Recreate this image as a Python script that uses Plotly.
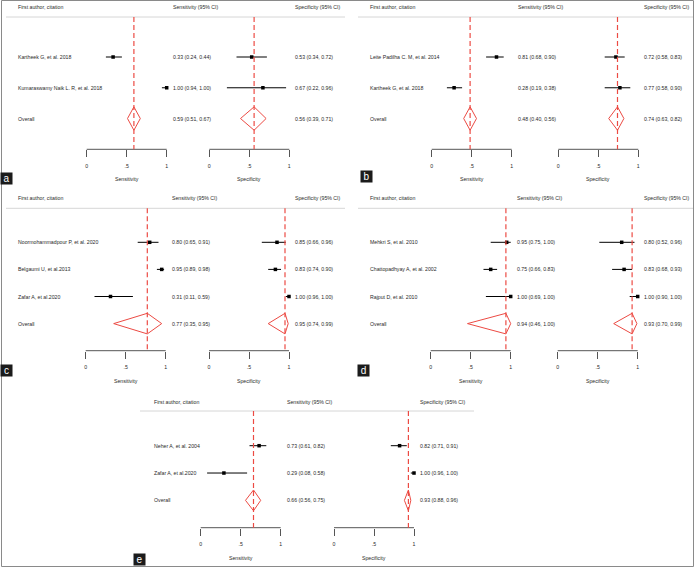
import plotly.graph_objects as go

W, H = 697, 568

# ---------------- data ----------------
a_studies = ["Kartheek G, et al. 2018", "Kumaraswamy Naik L. R, et al. 2018"]
a_sens = [0.33, 1.00]
a_sens_lo = [0.24, 0.94]
a_sens_hi = [0.44, 1.00]
a_spec = [0.53, 0.67]
a_spec_lo = [0.34, 0.22]
a_spec_hi = [0.72, 0.96]
a_pool_sens = [0.59, 0.51, 0.67]
a_pool_spec = [0.56, 0.39, 0.71]

b_studies = ["Leite Padilha C. M, et al. 2014", "Kartheek G, et al. 2018"]
b_sens = [0.81, 0.28]
b_sens_lo = [0.68, 0.19]
b_sens_hi = [0.90, 0.38]
b_spec = [0.72, 0.77]
b_spec_lo = [0.58, 0.58]
b_spec_hi = [0.83, 0.90]
b_pool_sens = [0.48, 0.40, 0.56]
b_pool_spec = [0.74, 0.63, 0.82]

c_studies = ["Noormohammadpour P, et al. 2020", "Belgaumi U, et al.2013", "Zafar A, et al.2020"]
c_sens = [0.80, 0.95, 0.31]
c_sens_lo = [0.65, 0.89, 0.11]
c_sens_hi = [0.91, 0.98, 0.59]
c_spec = [0.85, 0.83, 1.00]
c_spec_lo = [0.66, 0.74, 0.96]
c_spec_hi = [0.96, 0.90, 1.00]
c_pool_sens = [0.77, 0.35, 0.95]
c_pool_spec = [0.95, 0.74, 0.99]

d_studies = ["Mehkri S, et al. 2010", "Chattopadhyay A, et al. 2002", "Rajput D, et al. 2010"]
d_sens = [0.95, 0.75, 1.00]
d_sens_lo = [0.75, 0.66, 0.69]
d_sens_hi = [1.00, 0.83, 1.00]
d_spec = [0.80, 0.83, 1.00]
d_spec_lo = [0.52, 0.68, 0.90]
d_spec_hi = [0.96, 0.93, 1.00]
d_pool_sens = [0.94, 0.46, 1.00]
d_pool_spec = [0.93, 0.70, 0.99]

e_studies = ["Neher A, et al. 2004", "Zafar A, et al.2020"]
e_sens = [0.73, 0.29]
e_sens_lo = [0.61, 0.08]
e_sens_hi = [0.82, 0.58]
e_spec = [0.82, 1.00]
e_spec_lo = [0.71, 0.96]
e_spec_hi = [0.91, 1.00]
e_pool_sens = [0.66, 0.56, 0.75]
e_pool_spec = [0.93, 0.88, 0.96]

tick_vals = [0, 0.5, 1]
tick_text = ["0", ".5", "1"]

# ---------------- layout (pixels) ----------------
panels = [
    dict(letter="a", studies=a_studies,
         cols=[("Sensitivity", a_sens, a_sens_lo, a_sens_hi, a_pool_sens),
               ("Specificity", a_spec, a_spec_lo, a_spec_hi, a_pool_spec)],
         label_px=15.7, x0s=[86.7, 209.3], head=7.5, line=17, row1=57, axis=149.3,
         hl=(6, 345), lab=(6, 178)),
    dict(letter="b", studies=b_studies,
         cols=[("Sensitivity", b_sens, b_sens_lo, b_sens_hi, b_pool_sens),
               ("Specificity", b_spec, b_spec_lo, b_spec_hi, b_pool_spec)],
         label_px=367.7, x0s=[431.7, 558.3], head=7.5, line=17, row1=57, axis=149.3,
         hl=(358, 693), lab=(366.5, 177)),
    dict(letter="c", studies=c_studies,
         cols=[("Sensitivity", c_sens, c_sens_lo, c_sens_hi, c_pool_sens),
               ("Specificity", c_spec, c_spec_lo, c_spec_hi, c_pool_spec)],
         label_px=15.7, x0s=[85.7, 209.0], head=198.3, line=208.3, row1=242.3, axis=350.7,
         hl=(6, 345), lab=(6.5, 370)),
    dict(letter="d", studies=d_studies,
         cols=[("Sensitivity", d_sens, d_sens_lo, d_sens_hi, d_pool_sens),
               ("Specificity", d_spec, d_spec_lo, d_spec_hi, d_pool_spec)],
         label_px=367.7, x0s=[430.7, 557.7], head=198.3, line=208.3, row1=242.3, axis=350.7,
         hl=(358, 693), lab=(363.7, 370)),
    dict(letter="e", studies=e_studies,
         cols=[("Sensitivity", e_sens, e_sens_lo, e_sens_hi, e_pool_sens),
               ("Specificity", e_spec, e_spec_lo, e_spec_hi, e_pool_spec)],
         label_px=151.7, x0s=[200.7, 334.0], head=401.7, line=411, row1=445.7, axis=527.7,
         hl=(140, 474), lab=(139, 559.5)),
]

SPAN = 80.0      # pixels for 0..1
PAD = 0.08       # range padding
DH = 0.38        # diamond half height (row units)
RED = "#ec4a43"
AX = "#555555"
TXT = "#2a2a2a"
FONT = "Liberation Sans, Arial, sans-serif"
FS = 5.2
VAL_SHIFT = 3.8


def px2x(px):
    return px / W


def px2y(py):
    return 1 - py / H


fig = go.Figure()
layout = {}
shapes = []
annotations = []

for i, P in enumerate(panels):
    n = len(P["studies"])
    rows = list(range(1, n + 1))
    r_over = n + 1
    gap = (P["axis"] - P["row1"]) / (n + 1)
    top_val = 1 - (P["row1"] - P["line"]) / gap
    ykey = "yaxis" if i == 0 else f"yaxis{i + 1}"
    yname = "y" if i == 0 else f"y{i + 1}"
    sens_xname = "x" if 2 * i + 1 == 1 else f"x{2 * i + 1}"
    layout[ykey] = dict(domain=[px2y(P["axis"]), px2y(P["line"])],
                        range=[n + 2, top_val], visible=False, anchor=sens_xname)

    # header
    annotations.append(dict(text="First author, citation", xref="paper", yref="paper",
                            x=px2x(P["label_px"]), y=px2y(P["head"]), xanchor="left",
                            yanchor="middle", showarrow=False))
    shapes.append(dict(type="line", xref="paper", yref="paper",
                       x0=px2x(P["hl"][0]), x1=px2x(P["hl"][1]),
                       y0=px2y(P["line"]), y1=px2y(P["line"]),
                       line=dict(color="#d6d6d6", width=1)))
    for r, s in zip(rows, P["studies"]):
        annotations.append(dict(text=s, xref="paper", yref=yname, x=px2x(P["label_px"]), y=r,
                                xanchor="left", yanchor="middle", showarrow=False))
    annotations.append(dict(text="Overall", xref="paper", yref=yname, x=px2x(P["label_px"]),
                            y=r_over, xanchor="left", yanchor="middle", showarrow=False))

    for j, (name, est, lo, hi, pool) in enumerate(P["cols"]):
        k = 2 * i + j + 1
        xkey = "xaxis" if k == 1 else f"xaxis{k}"
        xname = "x" if k == 1 else f"x{k}"
        x0 = P["x0s"][j]
        layout[xkey] = dict(domain=[px2x(x0 - PAD * SPAN), px2x(x0 + SPAN + PAD * SPAN)],
                            range=[-PAD, 1 + PAD], anchor=yname, showline=False,
                            showgrid=False, zeroline=False, ticks="outside", ticklen=7,
                            tickwidth=1, tickcolor=AX, tickvals=tick_vals, ticktext=tick_text,
                            tickfont=dict(size=FS, color=TXT, family=FONT),
                            ticklabelstandoff=4)
        # axis line
        shapes.append(dict(type="line", xref=xname, yref="paper", x0=0, x1=1,
                           y0=px2y(P["axis"]), y1=px2y(P["axis"]),
                           line=dict(color=AX, width=1)))
        # pooled dashed line
        shapes.append(dict(type="line", xref=xname, yref="paper", x0=pool[0], x1=pool[0],
                           y0=px2y(P["line"]), y1=px2y(P["axis"]),
                           line=dict(color=RED, width=1.2, dash="5px,3px")))
        # study estimates
        fig.add_trace(go.Scatter(
            x=est, y=rows, xaxis=xname, yaxis=yname, mode="markers", cliponaxis=False,
            marker=dict(symbol="square", size=3.5, color="black"),
            error_x=dict(type="data", symmetric=False,
                         array=[h - e for e, h in zip(est, hi)],
                         arrayminus=[e - l for e, l in zip(est, lo)],
                         width=0, thickness=1, color="black"),
            hoverinfo="skip", showlegend=False))
        # pooled diamond
        fig.add_trace(go.Scatter(
            x=[pool[1], pool[0], pool[2], pool[0], pool[1]],
            y=[r_over, r_over - DH, r_over, r_over + DH, r_over],
            xaxis=xname, yaxis=yname, mode="lines", line=dict(color=RED, width=1),
            hoverinfo="skip", showlegend=False))
        # column header
        annotations.append(dict(text=f"{name} (95% CI)", xref=xname, yref="paper", x=1,
                                xshift=VAL_SHIFT, y=px2y(P["head"]), xanchor="left",
                                yanchor="middle", showarrow=False))
        for r, e, l, h in zip(rows, est, lo, hi):
            annotations.append(dict(text=f"{e:.2f} ({l:.2f}, {h:.2f})", xref=xname, yref=yname,
                                    x=1, xshift=VAL_SHIFT, y=r, xanchor="left",
                                    yanchor="middle", showarrow=False))
        annotations.append(dict(text=f"{pool[0]:.2f} ({pool[1]:.2f}, {pool[2]:.2f})",
                                xref=xname, yref=yname, x=1, xshift=VAL_SHIFT, y=r_over,
                                xanchor="left", yanchor="middle", showarrow=False))
        # axis title
        annotations.append(dict(text=name, xref=xname, yref="paper", x=0.5,
                                y=px2y(P["axis"]), yshift=-30, xanchor="center",
                                yanchor="middle", showarrow=False))

    # panel letter
    annotations.append(dict(text=P["letter"], xref="paper", yref="paper",
                            x=px2x(P["lab"][0]), y=px2y(P["lab"][1]), xanchor="center",
                            yanchor="middle", showarrow=False, bgcolor="#1b1b1b",
                            width=11, height=11, borderpad=0,
                            font=dict(color="white", size=10, family=FONT)))

# outer frame
shapes.append(dict(type="rect", xref="paper", yref="paper", x0=px2x(1.5), x1=px2x(693.5),
                   y0=px2y(566.5), y1=px2y(0.5), line=dict(color="#8a8a8a", width=1),
                   layer="below"))

fig.update_layout(width=W, height=H, margin=dict(l=0, r=0, t=0, b=0),
                  paper_bgcolor="white", plot_bgcolor="white",
                  font=dict(family=FONT, size=FS, color=TXT),
                  shapes=shapes, annotations=annotations, showlegend=False,
                  hovermode=False, **layout)

fig.write_html("out.html", config={"displayModeBar": False, "staticPlot": True},
               post_script="document.body.style.margin='0';document.body.style.padding='0';"
                           "document.body.style.overflow='hidden';")
